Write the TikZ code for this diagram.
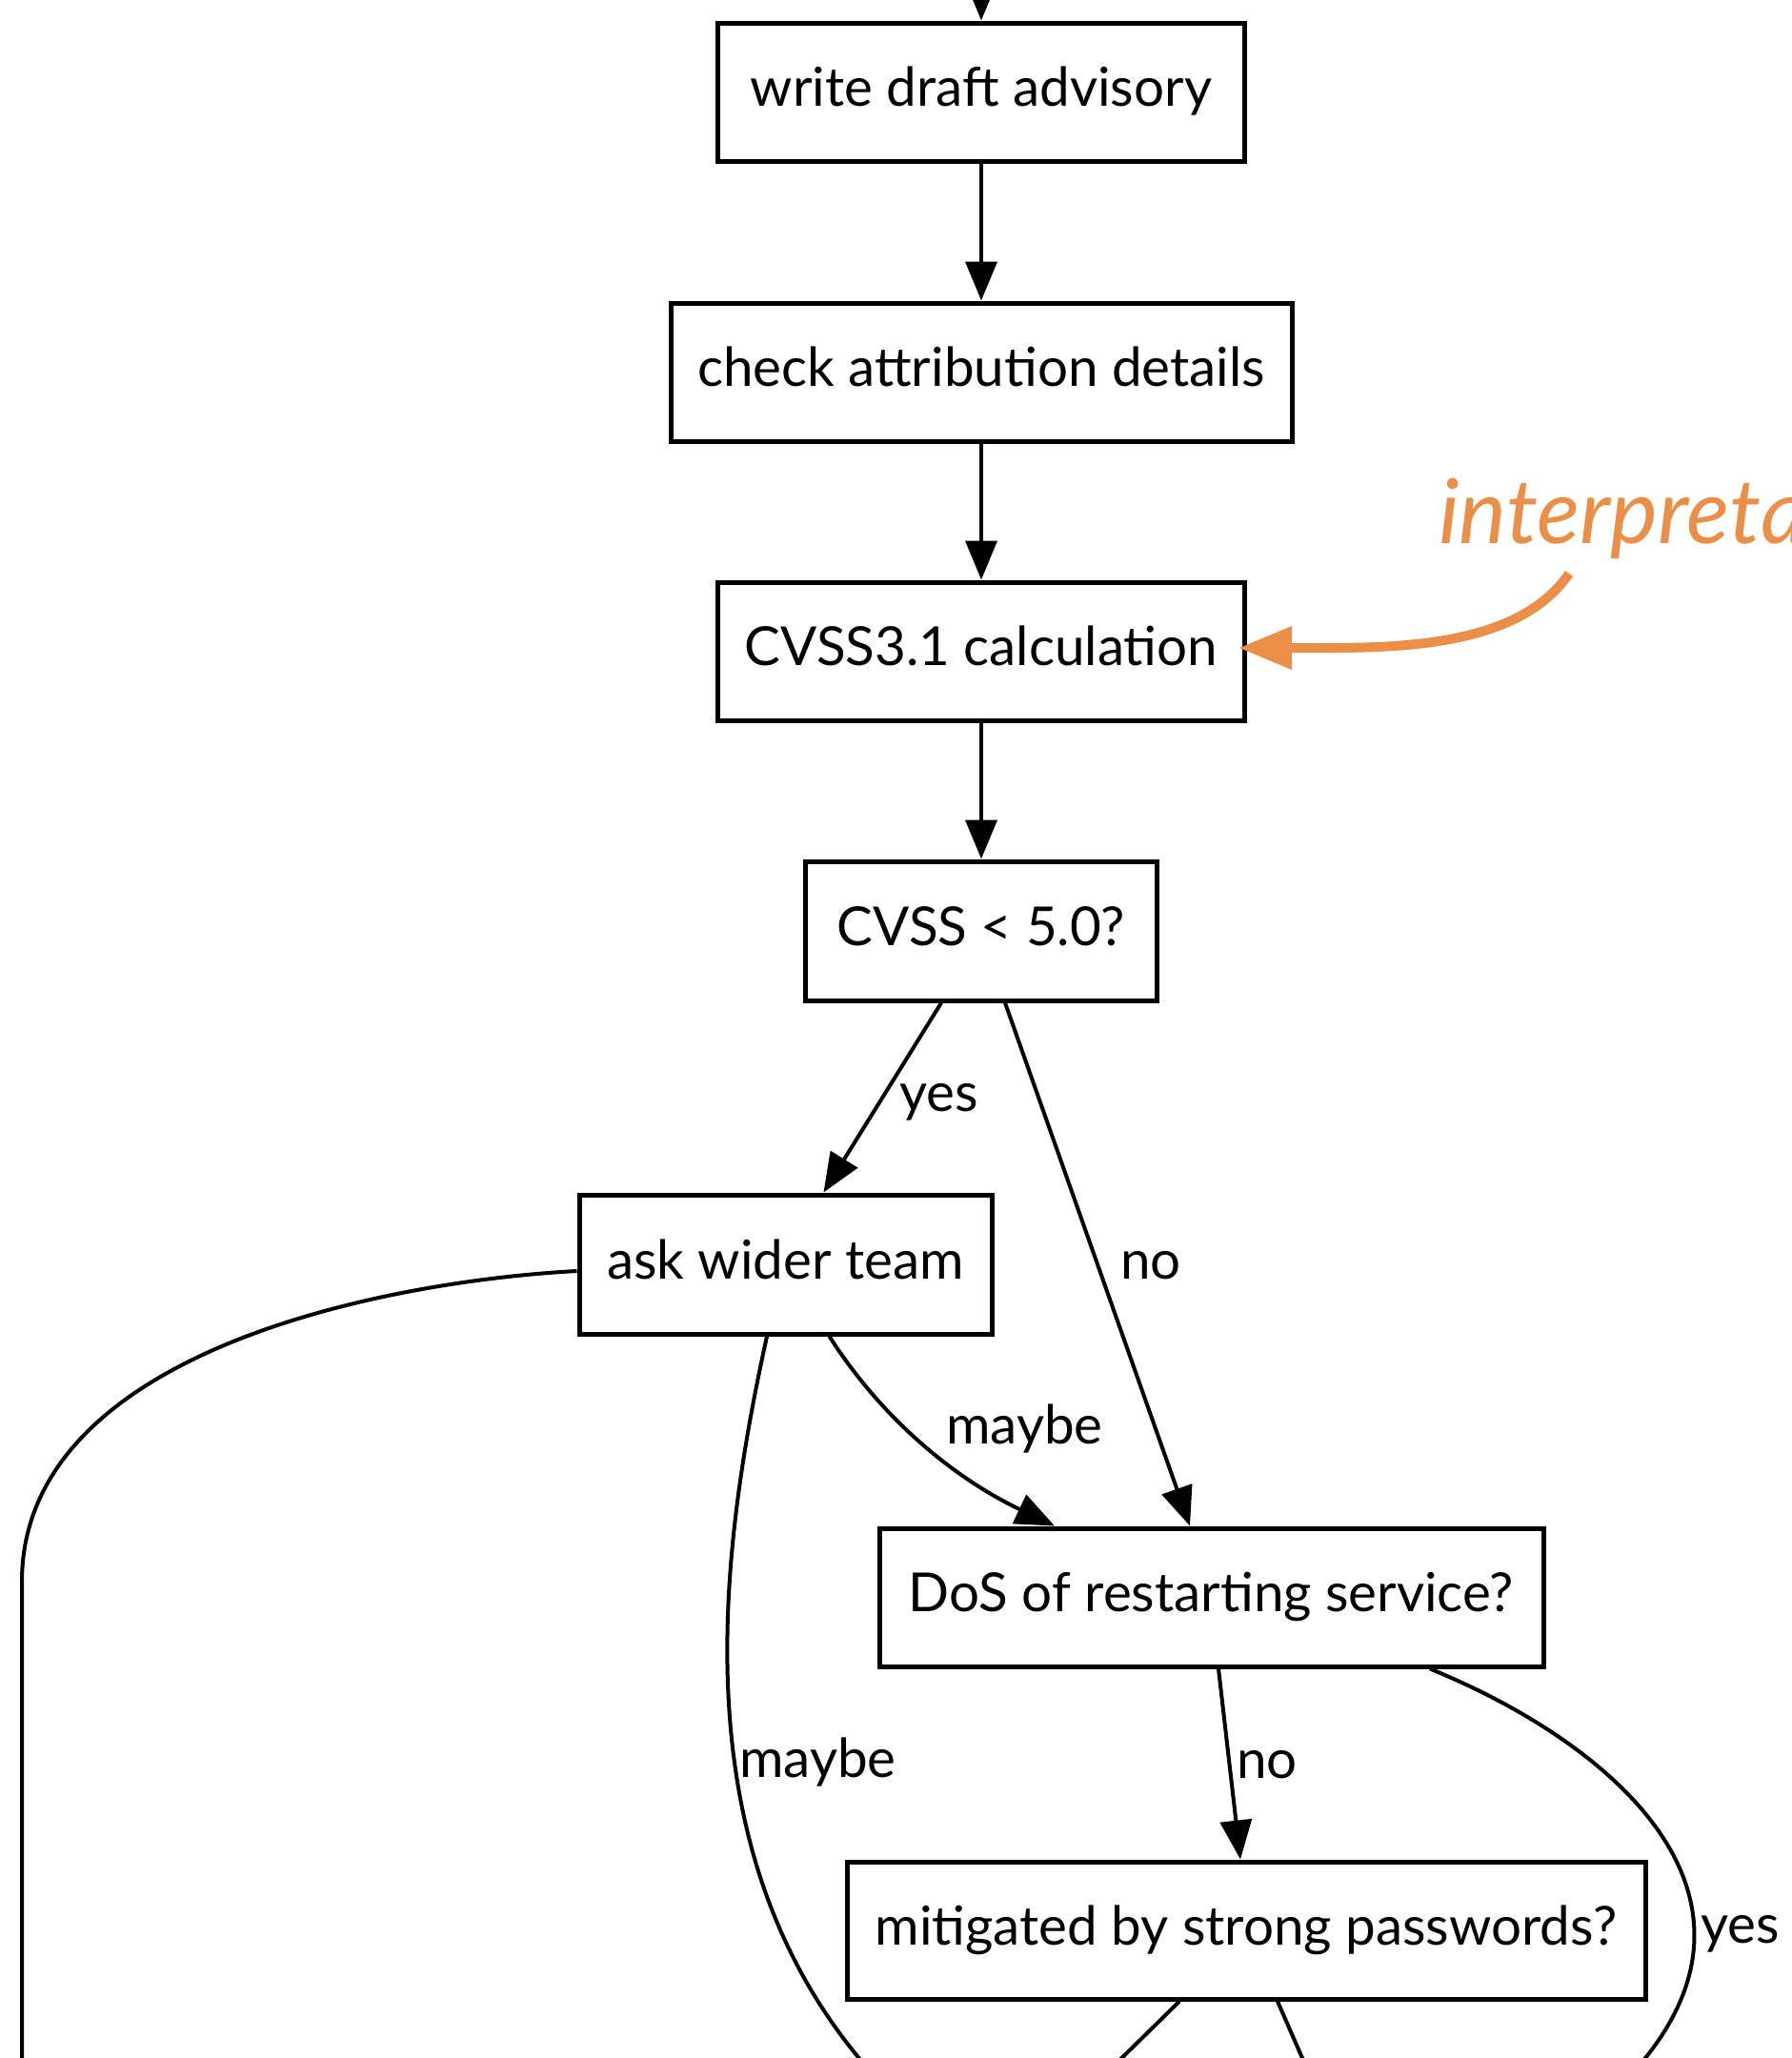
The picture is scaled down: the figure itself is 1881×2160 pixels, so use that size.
\documentclass[tikz,border=0pt]{standalone}
\usepackage{fontspec}
\setmainfont{Lato}
\usetikzlibrary{arrows.meta}
\definecolor{noteorange}{RGB}{235,143,72}
\begin{document}
\begin{tikzpicture}[x=1pt,y=-1pt,
  stepbox/.style={draw, rectangle, line width=5pt, inner sep=0pt,
    font=\fontsize{56.5}{60}\selectfont, text height=40pt, text depth=10pt},
  flow/.style={line width=4pt, -{Triangle[length=41pt,width=33pt]}},
  link/.style={line width=4pt},
  lbl/.style={anchor=base west, inner sep=0pt, font=\fontsize{56.5}{60}\selectfont},
  note/.style={noteorange, line width=10pt, -{Triangle[length=56pt,width=43pt]}},
]
\useasboundingbox (0,0) rectangle (1881,2160);
\fill[white] (0,0) rectangle (1881,2160);
\clip (0,0) rectangle (1881,2160);

% process steps
\node[stepbox, minimum width=553pt, minimum height=145pt] (draft)  at (1030,96.5)   {write draft advisory};
\node[stepbox, minimum width=652pt, minimum height=145pt] (attrib) at (1030,390.5)  {check attribution details};
\node[stepbox, minimum width=553pt, minimum height=145pt] (calc)   at (1030,683.5)  {CVSS3.1 calculation};
\node[stepbox, minimum width=369pt, minimum height=146pt] (score)  at (1030,977)    {CVSS < 5.0?};
\node[stepbox, minimum width=433pt, minimum height=146pt] (team)   at (824.5,1327)  {ask wider team};
\node[stepbox, minimum width=697pt, minimum height=145pt] (dos)    at (1271.5,1676.5) {DoS of restarting service?};
\node[stepbox, minimum width=838pt, minimum height=144pt] (mitig)  at (1308,2026)   {mitigated by strong passwords?};

% loose ends running off the sheet
\coordinate (topin)  at (1030,-60);
\coordinate (m2end)  at (910,2170);
\coordinate (y2end)  at (1700,2190);
\coordinate (leftend) at (23,2200);
\coordinate (outA)   at (1150,2187);
\coordinate (outB)   at (1380,2190);
\coordinate (noteend) at (1647,602);

% main chain
\draw[flow] (topin) -- (draft.north);
\draw[flow] (draft.south) -- (attrib.north);
\draw[flow] (attrib.south) -- (calc.north);
\draw[flow] (calc.south) -- (score.north);

% decisions
\draw[flow] ([xshift=-42pt]score.south) -- ([xshift=40pt]team.north);
\draw[flow] ([xshift=25pt]score.south) -- ([xshift=-22.5pt]dos.north);
\draw[flow] ([xshift=46pt]team.south) .. controls +(60,94) and +(-97,-46) .. ([xshift=-164.5pt]dos.north);
\draw[link] ([xshift=-19.5pt]team.south) .. controls +(-55,250) and +(-190,-220) .. (m2end);
\draw[link] ([yshift=-7pt]team.west) .. controls (400,1345) and (23,1420) .. (23,1660) -- (leftend);
\draw[flow] ([xshift=7.5pt]dos.south) -- ([xshift=-6pt]mitig.north);
\draw[link] ([xshift=229.5pt]dos.south) .. controls +(199,81) and +(190,-190) .. (y2end);
\draw[link] ([xshift=-70pt]mitig.south) -- (outA);
\draw[link] ([xshift=33pt]mitig.south) -- (outB);

% edge labels
\node[lbl] (lyes1)   at (944,1166)  {yes};
\node[lbl] (lno1)    at (1176,1342) {no};
\node[lbl] (lmaybe1) at (993,1515)  {maybe};
\node[lbl] (lmaybe2) at (776,1865)  {maybe};
\node[lbl] (lno2)    at (1298,1866) {no};
\node[lbl] (lyes2)   at (1785,2039) {yes};

% annotation
\node[anchor=base west, inner sep=0pt, text=noteorange,
      font=\itshape\fontsize{94}{96}\selectfont] (interp) at (1510,570) {interpretation};
\draw[note] (noteend) .. controls (1590,685) and (1450,680) .. ([xshift=-9pt,yshift=3.5pt]calc.east);
\end{tikzpicture}
\end{document}
